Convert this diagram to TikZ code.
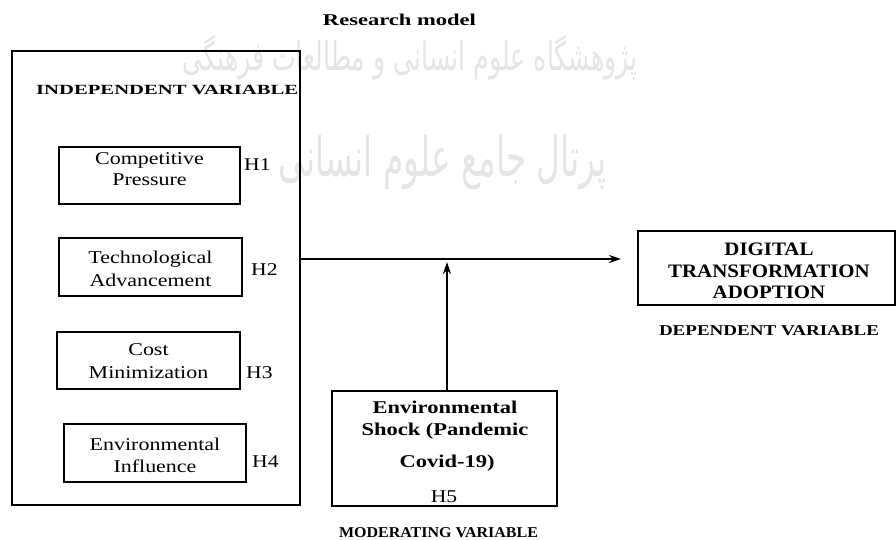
\documentclass[tikz,border=0pt]{standalone}
\usepackage{fontspec}
\setmainfont{Liberation Serif}
\newfontfamily\wmfont[Script=Arabic]{DejaVu Sans}
\TeXXeTstate=1
\usetikzlibrary{arrows.meta}
\newcommand\fw[2]{\resizebox{#1pt}{\height}{#2}}
\newcommand\sx[2]{\scalebox{#1}[1]{#2}}
\begin{document}
\begin{tikzpicture}[x=1pt,y=-1pt,
  frame/.style={draw, line width=1.5pt, inner sep=0pt},
  vbox/.style={draw, line width=1.3pt, inner sep=0pt},
  tl/.style={inner sep=0pt, anchor=base, font=\fontsize{18}{18}\selectfont},
  bl/.style={inner sep=0pt, anchor=base, font=\fontsize{19}{19}\selectfont\bfseries},
  ml/.style={inner sep=0pt, anchor=base, font=\fontsize{18}{18}\selectfont\bfseries},
  hd/.style={inner sep=0pt, anchor=base, font=\fontsize{15}{15}\selectfont\bfseries},
  wm/.style={inner sep=0pt, text=black!10},
  arr/.style={line width=2pt, -{Stealth[length=12pt,width=8pt]}}]
\useasboundingbox (0,0) rectangle (896,539);

% watermark
\node[wm] (wm1) at (410,58) {\resizebox*{455pt}{45pt}{\wmfont\beginR پژوهشگاه علوم انسانی و مطالعات فرهنگی\endR}};
\node[wm] (wm2) at (443,162) {\resizebox*{328pt}{55pt}{\wmfont\beginR پرتال جامع علوم انسانی\endR}};

% title
\node[hd, font=\fontsize{16.5}{16.5}\selectfont\bfseries] (title) at (399.5,25) {\fw{153}{Research model}};

% independent variable frame
\node[frame, minimum width=288pt, minimum height=454pt] (iv) at (156,278) {};
\node[hd, anchor=base west, font=\fontsize{14}{14}\selectfont\bfseries] (ivt) at (36,94) {\fw{262}{INDEPENDENT VARIABLE}};

% boxes
\node[vbox, minimum width=181pt, minimum height=57pt] (b1) at (149.5,175.5) {};
\node[tl] (b1a) at (149.5,164) {\sx{1.22}{Competitive}};
\node[tl] (b1b) at (149.5,185) {\sx{1.22}{Pressure}};
\node[tl, anchor=base west] (h1) at (244,170) {\sx{1.2}{H1}};

\node[vbox, minimum width=183pt, minimum height=58pt] (b2) at (150.5,267) {};
\node[tl] (b2a) at (150.5,263) {\sx{1.22}{Technological}};
\node[tl] (b2b) at (150.5,286) {\sx{1.22}{Advancement}};
\node[tl, anchor=base west] (h2) at (251,275) {\sx{1.2}{H2}};

\node[vbox, minimum width=183pt, minimum height=57pt] (b3) at (148.5,360.5) {};
\node[tl] (b3a) at (148.5,355) {\sx{1.22}{Cost}};
\node[tl] (b3b) at (148.5,378) {\sx{1.22}{Minimization}};
\node[tl, anchor=base west] (h3) at (246,378) {\sx{1.2}{H3}};

\node[vbox, minimum width=182pt, minimum height=58pt] (b4) at (155,453) {};
\node[tl] (b4a) at (155,450) {\sx{1.22}{Environmental}};
\node[tl] (b4b) at (155,472) {\sx{1.22}{Influence}};
\node[tl, anchor=base west] (h4) at (252,467) {\sx{1.2}{H4}};

% dependent variable
\node[frame, minimum width=257pt, minimum height=74pt] (dv) at (766.5,268) {};
\node[bl] (dv1) at (769,255) {\sx{1.1}{DIGITAL}};
\node[bl] (dv2) at (769,277) {\sx{1.1}{TRANSFORMATION}};
\node[bl] (dv3) at (769,298) {\sx{1.1}{ADOPTION}};
\node[hd] (dvt) at (769,335) {\fw{220}{DEPENDENT VARIABLE}};

% moderating variable
\node[frame, minimum width=225pt, minimum height=115pt] (mod) at (444.5,448.5) {};
\node[ml] (m1) at (445,413) {\sx{1.25}{Environmental}};
\node[ml] (m2) at (445,435) {\sx{1.25}{Shock (Pandemic}};
\node[ml] (m3) at (447,467) {\sx{1.25}{Covid-19)}};
\node[tl] (h5) at (444,502) {\sx{1.2}{H5}};
\node[hd] (mvt) at (438.5,537) {\fw{199}{MODERATING VARIABLE}};

% connectors
\coordinate (tipH) at (621,259);
\coordinate (tipV) at (447,262);
\draw[arr] (iv.east |- tipH) -- (tipH);
\draw[arr, line width=2.5pt] (mod.north -| tipV) -- (tipV);
\end{tikzpicture}
\end{document}
